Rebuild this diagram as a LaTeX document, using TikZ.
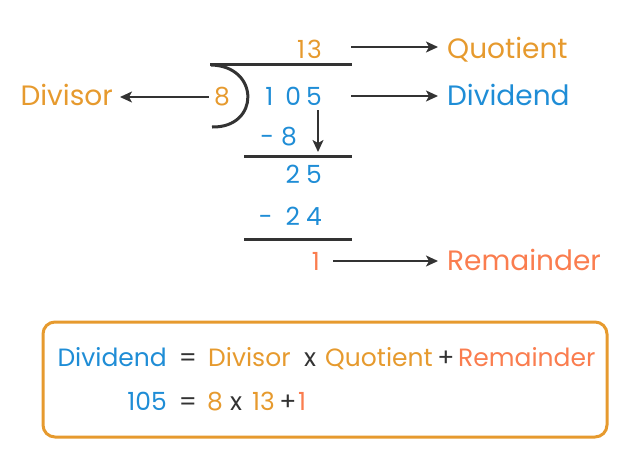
\documentclass[tikz,border=0pt]{standalone}
\usepackage{fontspec}
\setmainfont{Poppins}
\usetikzlibrary{arrows.meta}
\definecolor{qorange}{HTML}{E69A2E}
\definecolor{dblue}{HTML}{1F8DD6}
\definecolor{rcoral}{HTML}{FA7D4F}
\definecolor{ink}{HTML}{333333}
\tikzset{
  txt/.style={inner sep=0pt, font=\fontsize{25}{30}\selectfont},
  lbl/.style={inner sep=0pt, inner xsep=9pt, font=\fontsize{28}{33}\selectfont},
  rule/.style={draw=ink, line width=3pt},
  arr/.style={draw=ink, line width=1.5pt, -{Stealth[length=12pt,width=11pt,inset=3pt]}},
}
\begin{document}
\begin{tikzpicture}[x=1pt,y=-1pt]
\useasboundingbox (0,0) rectangle (622,456);
% long division
\node[txt, text=qorange, anchor=base east] (q) at (322,58) {1\kern2pt3};
\draw[rule] (210,64) -- (352,64);
\draw[ink, line width=3pt] (211,65) .. controls (260,66) and (260,128) .. (212,127);
\node[txt, text=qorange, anchor=base east, inner xsep=5pt] (d) at (235,105) {8};
\node[txt, text=dblue, anchor=base east] (n) at (322,105) {1\kern12pt0\kern5pt5};
\node[txt, text=dblue, anchor=base east] (m1) at (297,145) {-\kern7pt8};
\draw[rule] (244,156) -- (352,156);
\node[txt, text=dblue, anchor=base east] (r1) at (322,183) {2\kern6pt5};
\node[txt, text=dblue, anchor=base east] (m2) at (322,225) {-\kern13pt2\kern6pt4};
\draw[rule] (244,239) -- (352,239);
\node[txt, text=rcoral, anchor=base east, inner xsep=13pt] (r) at (333,270) {1};
% labels
\node[lbl, text=qorange, anchor=base west] (Q) at (438,58) {Quotient};
\node[lbl, text=dblue, anchor=base west] (D) at (438,105) {Dividend};
\node[lbl, text=rcoral, anchor=base west] (R) at (438,270) {Remainder};
\node[lbl, text=qorange, anchor=base east, inner xsep=7pt] (V) at (120,105) {Divisor};
\coordinate (qs) at (351,47);
\coordinate (ds) at (351,96);
\coordinate (a1) at (318,110);
\coordinate (a2) at (318,152);
\draw[arr] (qs) -- (qs -| Q.west);
\draw[arr] (ds) -- (ds -| D.west);
\draw[arr] (r.east |- 0,261) -- (R.west |- 0,261);
\draw[arr] (d.west |- 0,97) -- (V.east |- 0,97);
\draw[arr] (a1) -- (a2);
% formula box
\node[draw=qorange, line width=3pt, rounded corners=12pt, minimum width=564pt, minimum height=115pt, inner sep=0pt] (box) at (325,379.5) {};
\node[txt, text=dblue, anchor=base east] (f1) at (167,366) {Dividend};
\node[txt, text=ink, anchor=base] (e1) at (188,366) {=};
\node[txt, text=qorange, anchor=base west] (f2) at (208,366) {Divisor};
\node[txt, text=ink, anchor=base] (x1) at (310,366) {x};
\node[txt, text=qorange, anchor=base west] (f3) at (325,366) {Quotient};
\node[txt, text=ink, anchor=base] (p1) at (446,366) {+};
\node[txt, text=rcoral, anchor=base west] (f4) at (458,366) {Remainder};
\node[txt, text=dblue, anchor=base east] (g1) at (167,410) {105};
\node[txt, text=ink, anchor=base] (e2) at (188,410) {=};
\node[txt, text=qorange, anchor=base west] (g2) at (207,410) {8};
\node[txt, text=ink, anchor=base] (x2) at (236,410) {x};
\node[txt, text=qorange, anchor=base west] (g3) at (252,410) {13};
\node[txt, text=ink, anchor=base] (p2) at (288,410) {+};
\node[txt, text=rcoral, anchor=base west] (g4) at (298,410) {1};
\end{tikzpicture}
\end{document}
